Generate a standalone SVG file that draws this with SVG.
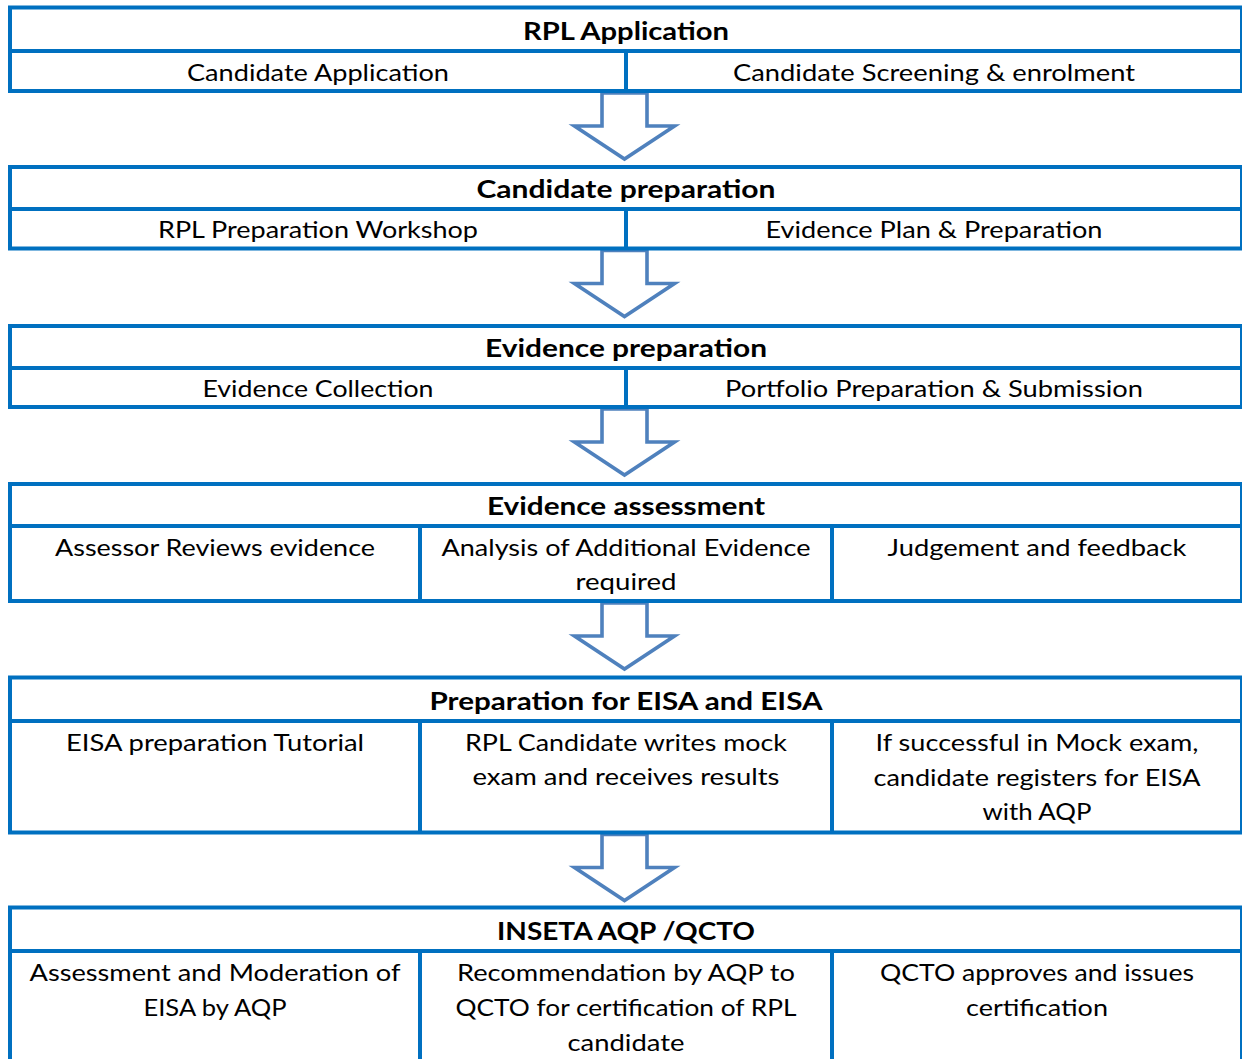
<svg xmlns="http://www.w3.org/2000/svg" width="1242" height="1059" viewBox="0 0 1242 1059">
<style>
.ln{stroke:#0070c0;stroke-width:4;fill:none}
.arr{fill:#ffffff;stroke:#4f81bd;stroke-width:3.6;stroke-linejoin:miter}
text{font-family:Lato,"Open Sans","Liberation Sans",sans-serif;font-size:24px;fill:#000;text-anchor:middle}
.t{font-weight:bold}
</style>
<rect width="1242" height="1059" fill="#ffffff"/>
<g id="connectors">
<path class="arr" d="M602,93 H647 V126 H674.5 L624.5,159 L574.5,126 H602 Z"/>
<path class="arr" d="M602,250.5 H647 V283.5 H674.5 L624.5,316.5 L574.5,283.5 H602 Z"/>
<path class="arr" d="M602,409 H647 V442 H674.5 L624.5,475 L574.5,442 H602 Z"/>
<path class="arr" d="M602,603 H647 V636 H674.5 L624.5,669 L574.5,636 H602 Z"/>
<path class="arr" d="M602,834.5 H647 V867.5 H674.5 L624.5,900.5 L574.5,867.5 H602 Z"/>
</g>
<g id="s1">
<path class="ln" d="M8,7.5 H1242 M8,51 H1242 M8,91 H1242 M10,5.5 V93 M1242,5.5 V93 M626,51 V91"/>
<text class="t" x="626" y="40" textLength="206" lengthAdjust="spacingAndGlyphs">RPL Application</text>
<text x="318" y="81" textLength="262" lengthAdjust="spacingAndGlyphs">Candidate Application</text>
<text x="934" y="81" textLength="402" lengthAdjust="spacingAndGlyphs">Candidate Screening &amp; enrolment</text>
</g>
<g id="s2">
<path class="ln" d="M8,167 H1242 M8,209 H1242 M8,248.5 H1242 M10,165 V250.5 M1242,165 V250.5 M626,209 V248.5"/>
<text class="t" x="626" y="198" textLength="299" lengthAdjust="spacingAndGlyphs">Candidate preparation</text>
<text x="318" y="238" textLength="320" lengthAdjust="spacingAndGlyphs">RPL Preparation Workshop</text>
<text x="934" y="238" textLength="337" lengthAdjust="spacingAndGlyphs">Evidence Plan &amp; Preparation</text>
</g>
<g id="s3">
<path class="ln" d="M8,326 H1242 M8,368 H1242 M8,407 H1242 M10,324 V409 M1242,324 V409 M626,368 V407"/>
<text class="t" x="626" y="357" textLength="282" lengthAdjust="spacingAndGlyphs">Evidence preparation</text>
<text x="318" y="397" textLength="231" lengthAdjust="spacingAndGlyphs">Evidence Collection</text>
<text x="934" y="397" textLength="418" lengthAdjust="spacingAndGlyphs">Portfolio Preparation &amp; Submission</text>
</g>
<g id="s4">
<path class="ln" d="M8,484 H1242 M8,526 H1242 M8,601 H1242 M10,482 V603 M1242,482 V603 M420,526 V601 M832,526 V601"/>
<text class="t" x="626" y="515" textLength="278" lengthAdjust="spacingAndGlyphs">Evidence assessment</text>
<text x="215" y="556" textLength="320" lengthAdjust="spacingAndGlyphs">Assessor Reviews evidence</text>
<text x="626" y="556" textLength="369" lengthAdjust="spacingAndGlyphs">Analysis of Additional Evidence</text>
<text x="626" y="590" textLength="101" lengthAdjust="spacingAndGlyphs">required</text>
<text x="1037" y="556" textLength="299" lengthAdjust="spacingAndGlyphs">Judgement and feedback</text>
</g>
<g id="s5">
<path class="ln" d="M8,677.5 H1242 M8,721 H1242 M8,832.5 H1242 M10,675.5 V834.5 M1242,675.5 V834.5 M420,721 V832.5 M832,721 V832.5"/>
<text class="t" x="626" y="710" textLength="393" lengthAdjust="spacingAndGlyphs">Preparation for EISA and EISA</text>
<text x="215" y="751" textLength="298" lengthAdjust="spacingAndGlyphs">EISA preparation Tutorial</text>
<text x="626" y="751" textLength="322" lengthAdjust="spacingAndGlyphs">RPL Candidate writes mock</text>
<text x="626" y="785" textLength="307" lengthAdjust="spacingAndGlyphs">exam and receives results</text>
<text x="1037" y="751" textLength="323" lengthAdjust="spacingAndGlyphs">If successful in Mock exam,</text>
<text x="1037" y="786" textLength="327" lengthAdjust="spacingAndGlyphs">candidate registers for EISA</text>
<text x="1037" y="820" textLength="109" lengthAdjust="spacingAndGlyphs">with AQP</text>
</g>
<g id="s6">
<path class="ln" d="M8,907.5 H1242 M8,951 H1242 M10,905.5 V1059 M1242,905.5 V1059 M420,951 V1059 M832,951 V1059"/>
<text class="t" x="626" y="940" textLength="258" lengthAdjust="spacingAndGlyphs">INSETA AQP /QCTO</text>
<text x="215" y="981" textLength="371" lengthAdjust="spacingAndGlyphs">Assessment and Moderation of</text>
<text x="215" y="1016" textLength="143" lengthAdjust="spacingAndGlyphs">EISA by AQP</text>
<text x="626" y="981" textLength="338" lengthAdjust="spacingAndGlyphs">Recommendation by AQP to</text>
<text x="626" y="1016" textLength="341" lengthAdjust="spacingAndGlyphs">QCTO for certification of RPL</text>
<text x="626" y="1051" textLength="117" lengthAdjust="spacingAndGlyphs">candidate</text>
<text x="1037" y="981" textLength="314" lengthAdjust="spacingAndGlyphs">QCTO approves and issues</text>
<text x="1037" y="1016" textLength="142" lengthAdjust="spacingAndGlyphs">certification</text>
</g>
</svg>
